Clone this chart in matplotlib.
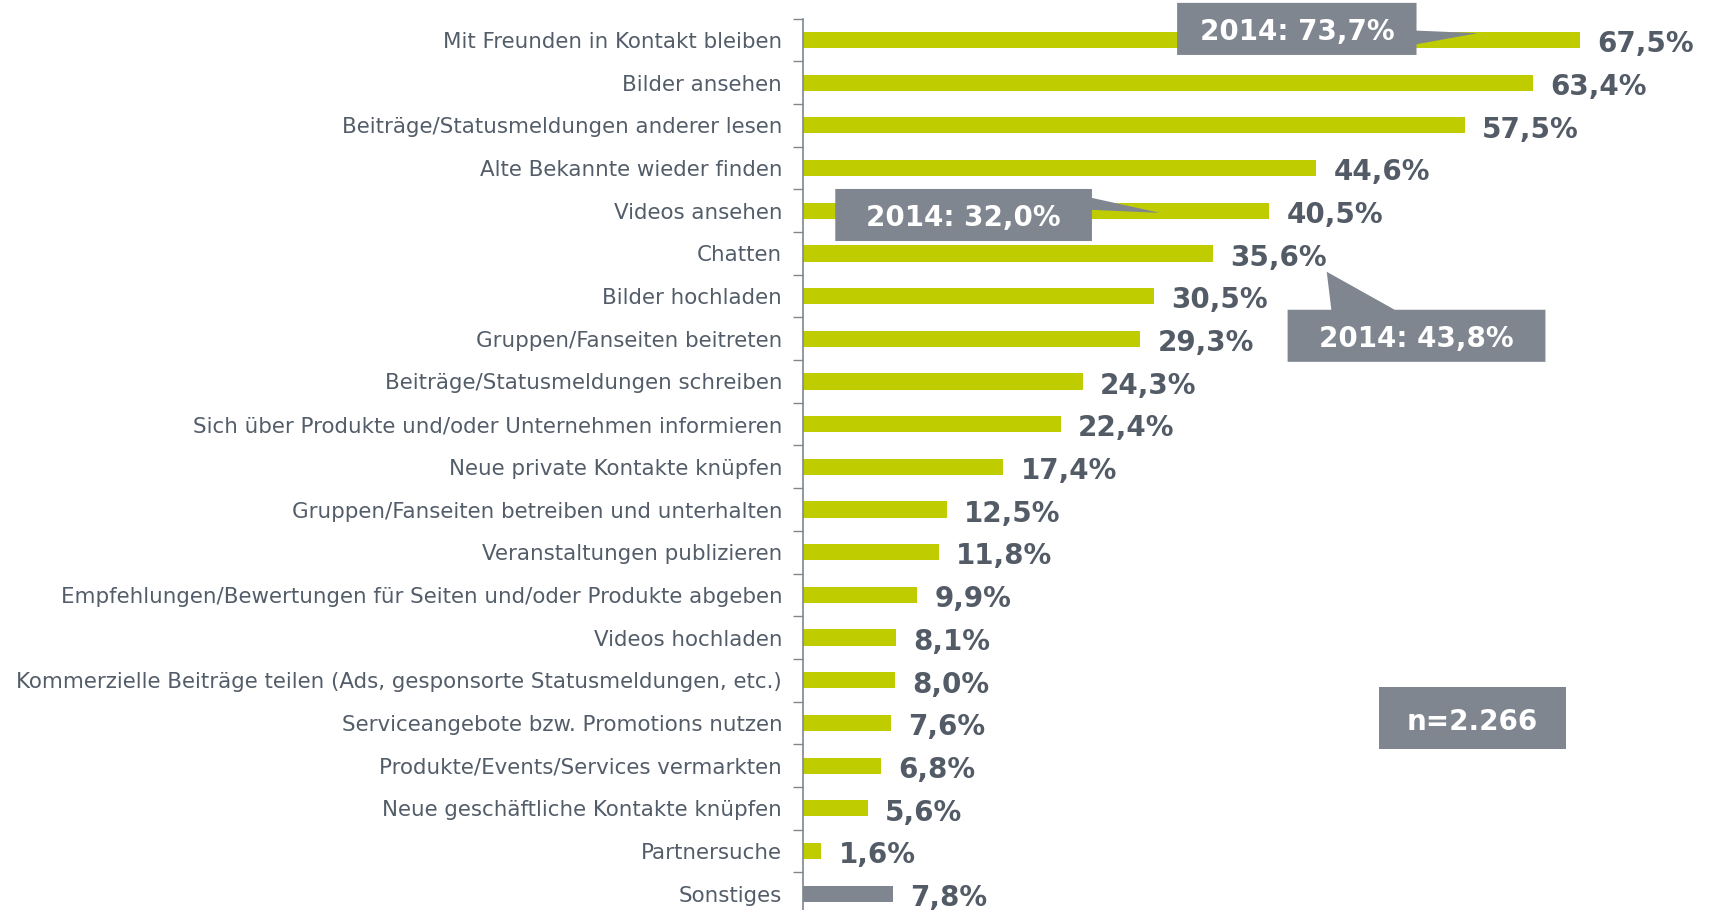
import matplotlib.pyplot as plt
from matplotlib.patches import Polygon

categories = [
    'Mit Freunden in Kontakt bleiben',
    'Bilder ansehen',
    'Beiträge/Statusmeldungen anderer lesen',
    'Alte Bekannte wieder finden',
    'Videos ansehen',
    'Chatten',
    'Bilder hochladen',
    'Gruppen/Fanseiten beitreten',
    'Beiträge/Statusmeldungen schreiben',
    'Sich über Produkte und/oder Unternehmen informieren',
    'Neue private Kontakte knüpfen',
    'Gruppen/Fanseiten betreiben und unterhalten',
    'Veranstaltungen publizieren',
    'Empfehlungen/Bewertungen für Seiten und/oder Produkte abgeben',
    'Videos hochladen',
    'Kommerzielle Beiträge teilen (Ads, gesponsorte Statusmeldungen, etc.)',
    'Serviceangebote bzw. Promotions nutzen',
    'Produkte/Events/Services vermarkten',
    'Neue geschäftliche Kontakte knüpfen',
    'Partnersuche',
    'Sonstiges',
]
values = [67.5, 63.4, 57.5, 44.6, 40.5, 35.6, 30.5, 29.3, 24.3, 22.4, 17.4,
          12.5, 11.8, 9.9, 8.1, 8.0, 7.6, 6.8, 5.6, 1.6, 7.8]
callout_texts = ['2014: 73,7%', '2014: 32,0%', '2014: 43,8%']
sample_text = 'n=2.266'

GREEN = '#bfcd00'
GREY = '#7f868f'
TEXT = '#525b66'
LABEL = '#535d69'

fig = plt.figure(figsize=(17.13, 9.10), dpi=100)
ax = fig.add_axes([0.4688, -0.0055, 0.5312, 0.985])

colors = [GREEN] * (len(values) - 1) + [GREY]
y = list(range(len(values)))
ax.barh(y, values, height=0.38, color=colors)
ax.set_ylim(len(values) - 0.5, -0.5)
ax.set_xlim(0, 79.06)

for yi, v in zip(y, values):
    ax.text(v + 1.5, yi + 0.1, f'{v:.1f}%'.replace('.', ','), va='center', ha='left',
            fontsize=20, fontweight='bold', color=TEXT)

ax.set_yticks(y)
ax.set_yticklabels(categories, fontsize=15.4, color=LABEL)
ax.tick_params(axis='y', which='major', length=0, pad=15)
ax.set_yticks([i + 0.5 for i in range(-1, len(values) - 1)], minor=True)
ax.tick_params(axis='y', which='minor', length=7, width=1, color=GREY)
ax.set_xticks([])
for s in ['top', 'right', 'bottom']:
    ax.spines[s].set_visible(False)
ax.spines['left'].set_color(GREY)
ax.spines['left'].set_linewidth(1.2)

# callout boxes with pointers (data coords: x in %, y in rows)
callouts = [
    ([(32.5, -0.87), (53.3, -0.87), (53.3, -0.22), (58.6, -0.16), (53.3, 0.10),
      (53.3, 0.35), (32.5, 0.35)], (42.9, -0.18), callout_texts[0]),
    ([(2.8, 3.49), (25.1, 3.49), (25.1, 3.70), (31.0, 4.05), (25.1, 3.98),
      (25.1, 4.71), (2.8, 4.71)], (13.95, 4.18), callout_texts[1]),
    ([(42.1, 6.32), (45.9, 6.32), (45.5, 5.43), (51.4, 6.32), (64.5, 6.32),
      (64.5, 7.54), (42.1, 7.54)], (53.3, 7.01), callout_texts[2]),
]
for pts, (tx, ty), txt in callouts:
    ax.add_patch(Polygon(pts, closed=True, facecolor=GREY, edgecolor='none',
                         clip_on=False, zorder=3))
    ax.text(tx, ty, txt, ha='center', va='center', fontsize=20, fontweight='bold',
            color='white', zorder=4, clip_on=False)

ax.add_patch(Polygon([(50.0, 15.15), (66.3, 15.15), (66.3, 16.6), (50.0, 16.6)],
                     closed=True, facecolor=GREY, edgecolor='none', zorder=3))
ax.text(58.15, 15.98, sample_text, ha='center', va='center', fontsize=20,
        fontweight='bold', color='white', zorder=4)

fig.savefig('out.png', dpi=100)
